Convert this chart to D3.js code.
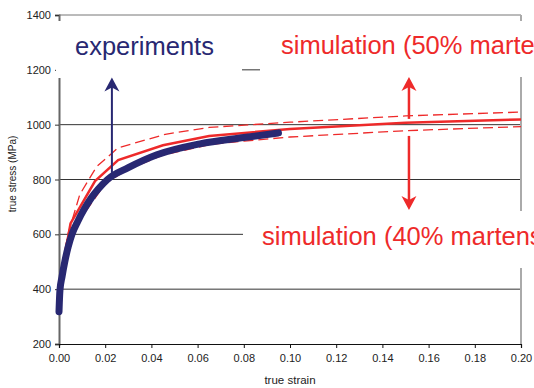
<!DOCTYPE html>
<html>
<head>
<meta charset="utf-8">
<script src="https://cdn.jsdelivr.net/npm/d3@7"></script>
<style>
  body { margin: 0; background: #fff; }
  svg { display: block; font-family: "Liberation Sans", Arial, sans-serif; }
</style>
</head>
<body>
<div id="chart"></div>
<script>
// values (strain, MPa)
const xTicks = [0, 0.02, 0.04, 0.06, 0.08, 0.10, 0.12, 0.14, 0.16, 0.18, 0.20];
const yTicks = [200, 400, 600, 800, 1000, 1200, 1400];

const expStrain = [0, 0.0004, 0.0013, 0.0025, 0.004, 0.0056, 0.008, 0.011, 0.014, 0.017, 0.021, 0.03, 0.0424, 0.061, 0.08, 0.095];
const expStress = [318, 395, 445, 500, 555, 600, 645, 693, 733, 765, 800, 843, 890, 930, 953, 970];

const simStrain = [0, 0.002, 0.005, 0.0156, 0.0256, 0.045, 0.065, 0.10, 0.15, 0.20];
const simStress = [320, 500, 640, 794, 871, 925, 959, 984, 1007, 1019];

const upStrain = [0, 0.002, 0.004, 0.009, 0.0163, 0.0255, 0.046, 0.065, 0.10, 0.15, 0.20];
const upStress = [330, 520, 604, 745, 847, 915, 965, 990, 1009, 1032, 1046];

const loStrain = [0, 0.002, 0.005, 0.01, 0.02, 0.03, 0.045, 0.065, 0.08, 0.10, 0.15, 0.20];
const loStress = [320, 470, 580, 665, 785, 838, 889, 927, 940, 955, 978, 993];

const W = 534, H = 388;
const navy = "#282872", red = "#ee2a2a";

const svg = d3.select("#chart").append("svg")
    .attr("width", W)
    .attr("height", H);

const x = d3.scaleLinear().domain([0, 0.2]).range([59, 521]);
const y = d3.scaleLinear().domain([200, 1400]).range([344, 15]);

// gridlines
svg.append("g").selectAll("line")
    .data(yTicks.filter(v => v > 200))
    .join("line")
        .attr("x1", x(0))
        .attr("x2", d => d === 600 ? 243 : x(0.2))
        .attr("y1", d => y(d))
        .attr("y2", d => y(d))
        .style("stroke", d => d === 1400 ? "#777" : "#333")
        .style("stroke-width", 1);

// right border
svg.append("line")
    .attr("x1", x(0.2)).attr("x2", x(0.2))
    .attr("y1", y(1400)).attr("y2", y(200))
    .style("stroke", "#aaa").style("stroke-width", 2);

// y axis
const yAxis = svg.append("g")
    .attr("transform", "translate(" + x(0) + ",0)")
    .call(d3.axisLeft(y).tickValues(yTicks).tickSize(4).tickPadding(4).tickFormat(d3.format("d")));
yAxis.select(".domain").style("stroke", "#666").style("stroke-width", 2);
yAxis.selectAll(".tick line").style("stroke", "#333");
yAxis.selectAll("text").style("font-size", "11px").style("fill", "#222");

// x axis
const xAxis = svg.append("g")
    .attr("transform", "translate(0," + y(200) + ")")
    .call(d3.axisBottom(x).tickValues(xTicks).tickSize(4).tickPadding(6).tickFormat(d3.format(".2f")));
xAxis.select(".domain").style("stroke", "#111").style("stroke-width", 1.2);
xAxis.selectAll(".tick line").style("stroke", "#111");
xAxis.selectAll("text").style("font-size", "11px").style("fill", "#222");

// axis titles
svg.append("text")
    .attr("transform", "translate(16,174) rotate(-90)")
    .attr("text-anchor", "middle")
    .style("font-size", "10px").style("fill", "#222")
    .text("true stress (MPa)");
svg.append("text")
    .attr("x", 290).attr("y", 384)
    .attr("text-anchor", "middle")
    .style("font-size", "11.5px").style("fill", "#222")
    .text("true strain");

// white boxes of the pasted labels
const boxes = [[56, 21, 186, 57], [260, 21, 274, 56], [243, 211, 291, 57]];
svg.append("g").selectAll("rect")
    .data(boxes)
    .join("rect")
        .attr("x", d => d[0]).attr("y", d => d[1])
        .attr("width", d => d[2]).attr("height", d => d[3])
        .style("fill", "#fff");

const line = d3.line().x(d => x(d[0])).y(d => y(d[1]));
const zip = (a, b) => a.map((v, i) => [v, b[i]]);

svg.append("path")
    .datum(zip(loStrain, loStress))
    .attr("d", line)
    .style("fill", "none").style("stroke", red)
    .style("stroke-width", 1.3).style("stroke-dasharray", "10,5");
svg.append("path")
    .datum(zip(upStrain, upStress))
    .attr("d", line)
    .style("fill", "none").style("stroke", red)
    .style("stroke-width", 1.3).style("stroke-dasharray", "10,5");
svg.append("path")
    .datum(zip(simStrain, simStress))
    .attr("d", line)
    .style("fill", "none").style("stroke", red)
    .style("stroke-width", 2.5);
svg.append("path")
    .datum(zip(expStrain, expStress))
    .attr("d", d3.line().curve(d3.curveMonotoneX).x(d => x(d[0])).y(d => y(d[1])))
    .style("fill", "none").style("stroke", navy)
    .style("stroke-width", 7).style("stroke-linecap", "round");

// arrows: [strain, from stress, to stress, colour, width]
const arrows = [
    [0.0229, 824, 1172, navy, 2],
    [0.1515, 1021, 1174, red, 2.5],
    [0.1515, 959, 689, red, 2.5]
];
arrows.forEach(a => {
    const ax = x(a[0]), y0 = y(a[1]), y1 = y(a[2]);
    const dir = y1 < y0 ? 1 : -1;
    svg.append("line")
        .attr("x1", ax).attr("x2", ax)
        .attr("y1", y0).attr("y2", y1 + dir * 8)
        .style("stroke", a[3]).style("stroke-width", a[4]);
    svg.append("path")
        .attr("d", "M" + ax + "," + y1 +
            "L" + (ax - 7.5) + "," + (y1 + dir * 14) +
            "L" + ax + "," + (y1 + dir * 10) +
            "L" + (ax + 7.5) + "," + (y1 + dir * 14) + "Z")
        .style("fill", a[3]);
});

// labels (cut at the right edge, as in the original)
svg.append("text")
    .attr("x", 75).attr("y", 55)
    .style("font-size", "25.5px").style("fill", navy)
    .text("experiments");
svg.append("text")
    .attr("x", 281).attr("y", 54)
    .style("font-size", "25.5px").style("fill", red)
    .text("simulation (50% martensite)");
svg.append("text")
    .attr("x", 262).attr("y", 245)
    .style("font-size", "25.5px").style("fill", red)
    .text("simulation (40% martensite)");
</script>
</body>
</html>
